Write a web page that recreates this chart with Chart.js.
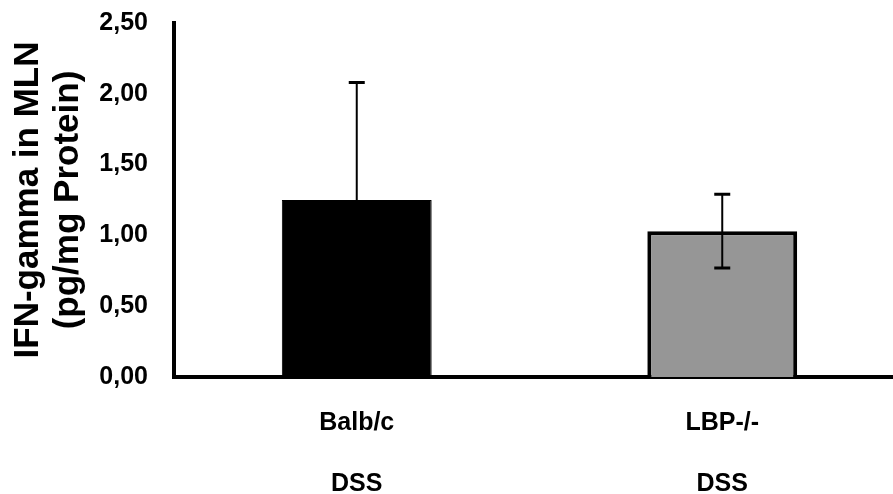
<!DOCTYPE html>
<html>
<head>
<meta charset="utf-8">
<script src="https://cdn.jsdelivr.net/npm/chart.js@4/dist/chart.umd.min.js"></script>
<style>
  html, body { margin: 0; padding: 0; background: #fff; overflow: hidden; }
  #wrap { width: 893px; height: 494px; overflow: hidden; }
</style>
</head>
<body>
<div id="wrap"><canvas id="ifnChart" width="905" height="494"></canvas></div>
<script>
// values
const groups = [['Balb/c', 'DSS'], ['LBP-/-', 'DSS']];
const means = [1.25, 1.03];
const errors = [0.83, 0.26];
const barColors = ['#000000', '#969696'];
const yMax = 2.5;
const yStep = 0.5;

const FONT = "'Liberation Sans', Arial, sans-serif";

const errorBars = {
  id: 'errorBars',
  afterDatasetsDraw(chart) {
    const ctx = chart.ctx;
    const y = chart.scales.y;
    const meta = chart.getDatasetMeta(0);
    ctx.save();
    ctx.strokeStyle = '#000';
    meta.data.forEach((bar, i) => {
      const top = y.getPixelForValue(means[i] + errors[i]);
      const bottom = y.getPixelForValue(means[i] - errors[i]);
      ctx.lineWidth = 2;
      ctx.beginPath();
      ctx.moveTo(bar.x, top);
      ctx.lineTo(bar.x, bottom);
      ctx.stroke();
      ctx.lineWidth = 3;
      ctx.beginPath();
      ctx.moveTo(bar.x - 8, top);
      ctx.lineTo(bar.x + 8, top);
      ctx.moveTo(bar.x - 8, bottom);
      ctx.lineTo(bar.x + 8, bottom);
      ctx.stroke();
    });
    ctx.restore();
  }
};

function drawChart() {
  const ctx = document.getElementById('ifnChart').getContext('2d');
  new Chart(ctx, {
    type: 'bar',
    data: {
      labels: groups,
      datasets: [
        {
          data: means,
          backgroundColor: barColors,
          borderColor: '#000',
          borderWidth: [1, 4],
          barPercentage: 0.41,
          categoryPercentage: 1
        }
      ]
    },
    options: {
      responsive: false,
      animation: false,
      layout: { padding: 0 },
      plugins: {
        legend: { display: false },
        tooltip: { enabled: false }
      },
      scales: {
        x: {
          grid: { display: false, drawTicks: false },
          border: { display: true, color: '#000', width: 4 },
          ticks: {
            color: '#000',
            padding: 16,
            font: { family: FONT, size: 25, weight: 'bold', lineHeight: 2.44 }
          },
          afterFit(scale) { scale.height = 117; }
        },
        y: {
          min: 0,
          max: yMax,
          grid: { display: false, drawTicks: false },
          border: { display: true, color: '#000', width: 4 },
          ticks: {
            stepSize: yStep,
            color: '#000',
            padding: 26,
            font: { family: FONT, size: 25, weight: 'bold' },
            callback: v => v.toFixed(2).replace('.', ',')
          },
          title: {
            display: true,
            text: ['IFN-gamma in MLN', '(pg/mg Protein)'],
            color: '#000',
            padding: { top: 8, bottom: 0 },
            font: { family: FONT, size: 35, weight: 'bold', lineHeight: 1.15 }
          },
          afterFit(scale) {
            scale.width = 174;
            scale.paddingTop = 23;
            scale.paddingBottom = 0;
          }
        }
      }
    },
    plugins: [errorBars]
  });
}

document.addEventListener('DOMContentLoaded', drawChart);
</script>
</body>
</html>
